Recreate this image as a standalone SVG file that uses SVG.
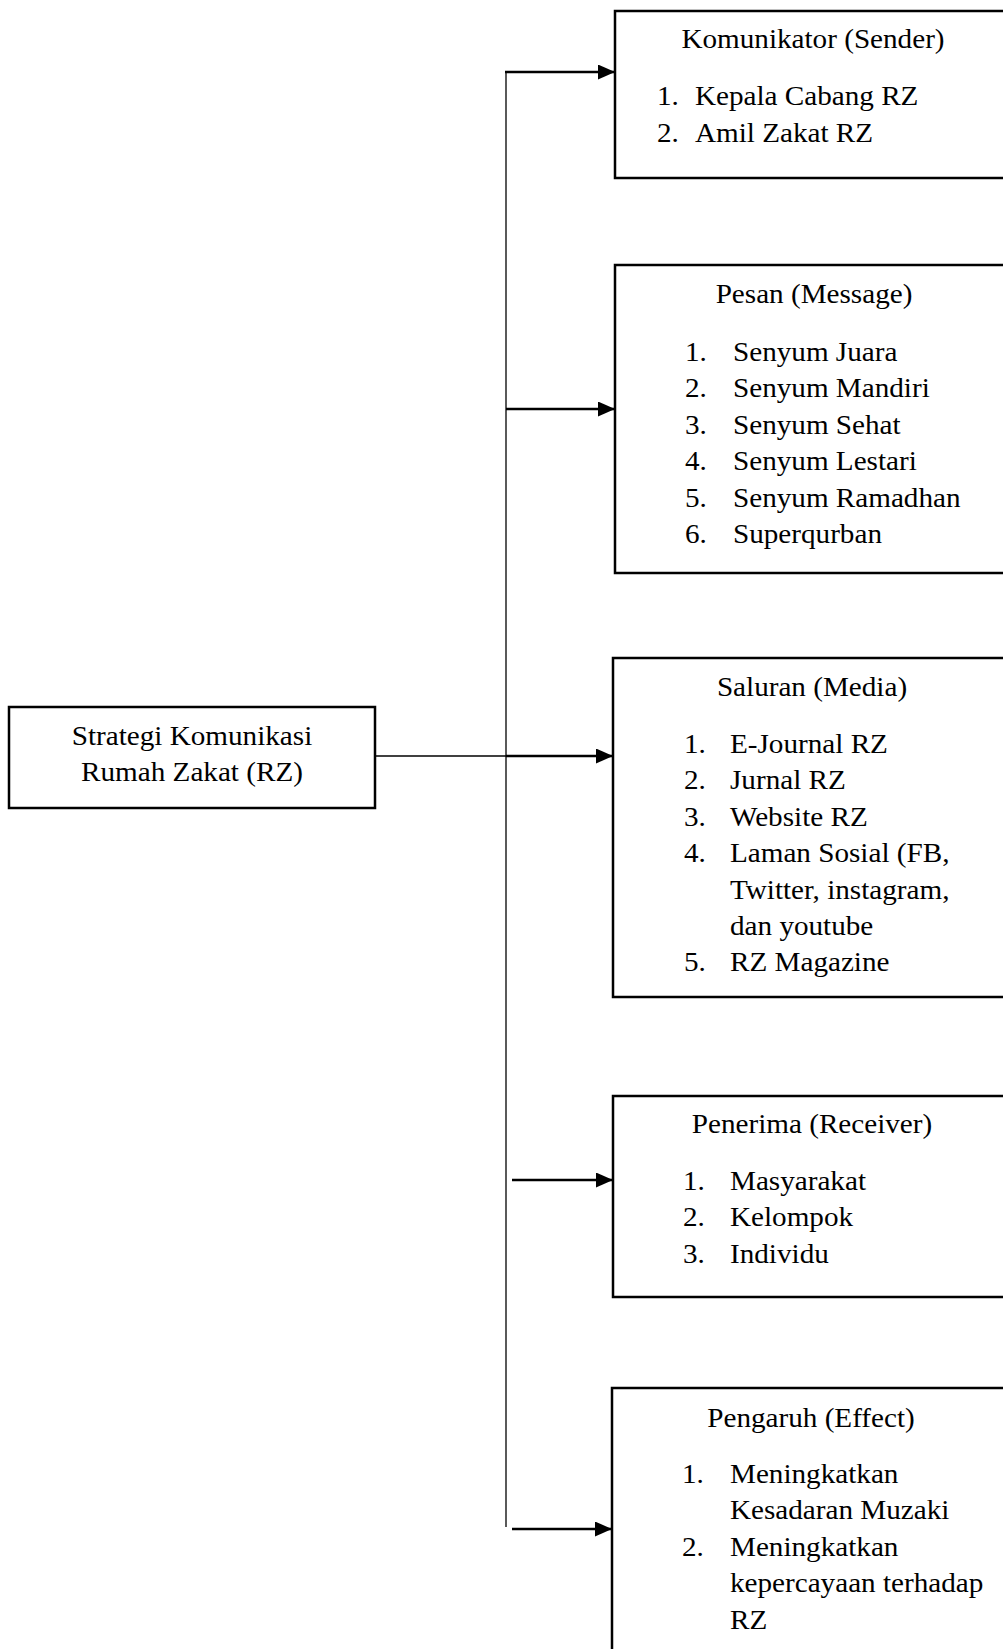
<svg xmlns="http://www.w3.org/2000/svg" width="1003" height="1649" viewBox="0 0 1003 1649">
<style>
.box{fill:#fff;stroke:#000;stroke-width:2.5}
.t{font-family:"Liberation Serif","Times New Roman",serif;font-size:27px;fill:#000}
.c{text-anchor:middle}
.thin{stroke:#000;fill:none;stroke-width:1.3}
.arr{stroke:#000;fill:none;stroke-width:2.6;marker-end:url(#ah)}
</style>
<defs>
<marker id="ah" markerUnits="userSpaceOnUse" markerWidth="18" markerHeight="16" refX="17" refY="7.5" orient="auto">
<path d="M0,0 L17,7.5 L0,15 z" fill="#000"/>
</marker>
</defs>
<rect width="1003" height="1649" fill="#fff"/>
<g id="connectors">
<path class="thin" d="M506,71 V1527"/>
<path class="thin" d="M375,756 H506"/>
<path class="arr" d="M505,72 H615"/>
<path class="arr" d="M506,409 H615"/>
<path class="arr" d="M506,756 H613"/>
<path class="arr" d="M512,1180 H613"/>
<path class="arr" d="M512,1529 H612"/>
</g>
<g id="main">
<rect class="box" x="9" y="707" width="366" height="101"/>
<text class="t c" transform="matrix(1.08 0 0 1 192 745)">Strategi Komunikasi</text>
<text class="t c" transform="matrix(1.08 0 0 1 192 781)">Rumah Zakat (RZ)</text>
</g>
<g id="komunikator">
<rect class="box" x="615" y="11" width="400" height="167"/>
<text class="t c" transform="matrix(1.08 0 0 1 813 48)">Komunikator (Sender)</text>
<text class="t" transform="matrix(1.08 0 0 1 657 105)">1.</text>
<text class="t" transform="matrix(1.08 0 0 1 695 105)">Kepala Cabang RZ</text>
<text class="t" transform="matrix(1.08 0 0 1 657 142)">2.</text>
<text class="t" transform="matrix(1.08 0 0 1 695 142)">Amil Zakat RZ</text>
</g>
<g id="pesan">
<rect class="box" x="615" y="265" width="400" height="308"/>
<text class="t c" transform="matrix(1.08 0 0 1 814 303)">Pesan (Message)</text>
<text class="t" transform="matrix(1.08 0 0 1 685 361)">1.</text>
<text class="t" transform="matrix(1.08 0 0 1 733 361)">Senyum Juara</text>
<text class="t" transform="matrix(1.08 0 0 1 685 397.4)">2.</text>
<text class="t" transform="matrix(1.08 0 0 1 733 397.4)">Senyum Mandiri</text>
<text class="t" transform="matrix(1.08 0 0 1 685 433.8)">3.</text>
<text class="t" transform="matrix(1.08 0 0 1 733 433.8)">Senyum Sehat</text>
<text class="t" transform="matrix(1.08 0 0 1 685 470.2)">4.</text>
<text class="t" transform="matrix(1.08 0 0 1 733 470.2)">Senyum Lestari</text>
<text class="t" transform="matrix(1.08 0 0 1 685 506.6)">5.</text>
<text class="t" transform="matrix(1.08 0 0 1 733 506.6)">Senyum Ramadhan</text>
<text class="t" transform="matrix(1.08 0 0 1 685 543)">6.</text>
<text class="t" transform="matrix(1.08 0 0 1 733 543)">Superqurban</text>
</g>
<g id="saluran">
<rect class="box" x="613" y="658" width="400" height="339"/>
<text class="t c" transform="matrix(1.08 0 0 1 812 696)">Saluran (Media)</text>
<text class="t" transform="matrix(1.08 0 0 1 684 753)">1.</text>
<text class="t" transform="matrix(1.08 0 0 1 730 753)">E-Journal RZ</text>
<text class="t" transform="matrix(1.08 0 0 1 684 789.4)">2.</text>
<text class="t" transform="matrix(1.08 0 0 1 730 789.4)">Jurnal RZ</text>
<text class="t" transform="matrix(1.08 0 0 1 684 825.8)">3.</text>
<text class="t" transform="matrix(1.08 0 0 1 730 825.8)">Website RZ</text>
<text class="t" transform="matrix(1.08 0 0 1 684 862.2)">4.</text>
<text class="t" transform="matrix(1.08 0 0 1 730 862.2)">Laman Sosial (FB,</text>
<text class="t" transform="matrix(1.08 0 0 1 730 898.6)">Twitter, instagram,</text>
<text class="t" transform="matrix(1.08 0 0 1 730 935)">dan youtube</text>
<text class="t" transform="matrix(1.08 0 0 1 684 971.4)">5.</text>
<text class="t" transform="matrix(1.08 0 0 1 730 971.4)">RZ Magazine</text>
</g>
<g id="penerima">
<rect class="box" x="613" y="1096" width="400" height="201"/>
<text class="t c" transform="matrix(1.08 0 0 1 812 1133)">Penerima (Receiver)</text>
<text class="t" transform="matrix(1.08 0 0 1 683 1190)">1.</text>
<text class="t" transform="matrix(1.08 0 0 1 730 1190)">Masyarakat</text>
<text class="t" transform="matrix(1.08 0 0 1 683 1226.4)">2.</text>
<text class="t" transform="matrix(1.08 0 0 1 730 1226.4)">Kelompok</text>
<text class="t" transform="matrix(1.08 0 0 1 683 1262.8)">3.</text>
<text class="t" transform="matrix(1.08 0 0 1 730 1262.8)">Individu</text>
</g>
<g id="pengaruh">
<rect class="box" x="612" y="1388" width="400" height="300"/>
<text class="t c" transform="matrix(1.08 0 0 1 811 1427)">Pengaruh (Effect)</text>
<text class="t" transform="matrix(1.08 0 0 1 682 1483)">1.</text>
<text class="t" transform="matrix(1.08 0 0 1 730 1483)">Meningkatkan</text>
<text class="t" transform="matrix(1.08 0 0 1 730 1519.4)">Kesadaran Muzaki</text>
<text class="t" transform="matrix(1.08 0 0 1 682 1555.8)">2.</text>
<text class="t" transform="matrix(1.08 0 0 1 730 1555.8)">Meningkatkan</text>
<text class="t" transform="matrix(1.08 0 0 1 730 1592.2)">kepercayaan terhadap</text>
<text class="t" transform="matrix(1.08 0 0 1 730 1628.6)">RZ</text>
</g>
</svg>
